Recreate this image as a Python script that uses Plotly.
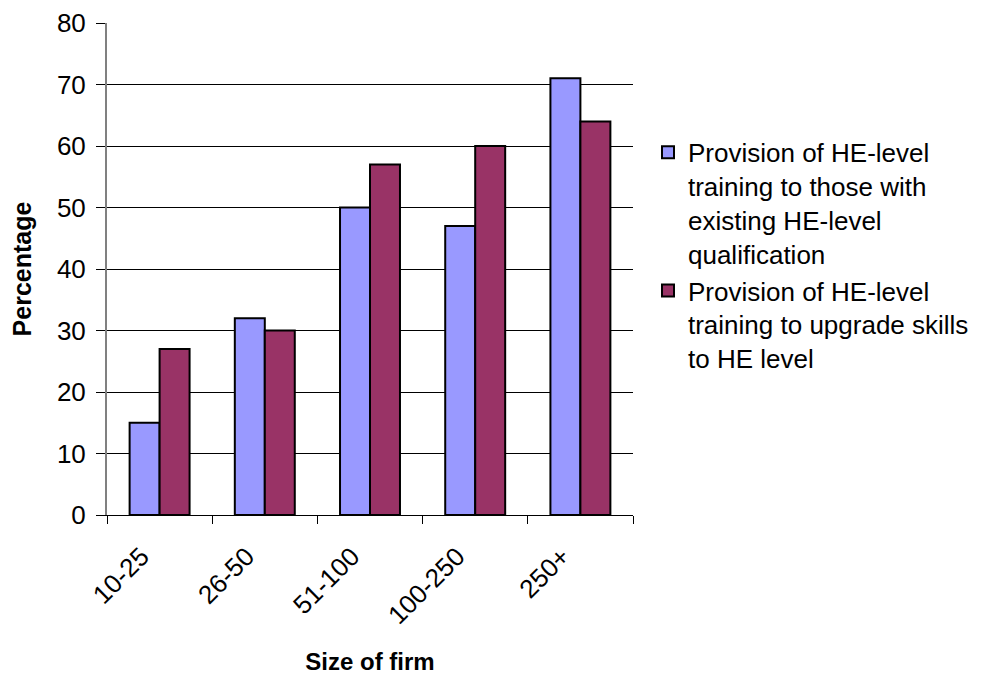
import plotly.graph_objects as go

# Survey results: share of firms providing HE-level training, by firm size
firm_sizes = ["10-25", "26-50", "51-100", "100-250", "250+"]
existing_he = [15, 32, 50, 47, 71]
upgrade_to_he = [27, 30, 57, 60, 64]

series_names = [
    "Provision of HE-level<br>training to those with<br>existing HE-level<br>qualification",
    "Provision of HE-level<br>training to upgrade skills<br>to HE level",
]
series_colors = ["#9999FF", "#993366"]

FONT = "Arial, Liberation Sans, sans-serif"

fig = go.Figure()
for name, vals, color in zip(series_names, [existing_he, upgrade_to_he], series_colors):
    fig.add_trace(go.Bar(
        x=firm_sizes, y=vals, name=name,
        marker=dict(color=color, line=dict(color="black", width=2)),
    ))

fig.update_layout(
    width=1002, height=675,
    margin=dict(l=107, r=369, t=23, b=160),
    paper_bgcolor="white", plot_bgcolor="white",
    barmode="group", bargap=0.43, bargroupgap=0,
    font=dict(family=FONT, color="black", size=25),
    legend=dict(
        x=1.0285, y=0.785, xanchor="left", yanchor="top",
        font=dict(size=26, family=FONT), tracegroupgap=6,
        itemwidth=30, valign="top",
    ),
    showlegend=True,
)

fig.update_xaxes(
    type="category", tickson="boundaries", automargin=False,
    ticks="outside", ticklen=8, tickcolor="black", tickwidth=1,
    showline=True, linecolor="black", linewidth=1,
    tickangle=-45, tickfont=dict(size=26),
    ticklabelstandoff=15, ticklabelshift=-18,
    title=dict(text="<b>Size of firm</b>", font=dict(size=24), standoff=30),
)
fig.update_yaxes(
    range=[0, 80], dtick=10, automargin=False,
    ticks="outside", ticklen=9, tickcolor="black", tickwidth=1,
    ticklabelstandoff=5,
    showline=True, linecolor="#808080", linewidth=2,
    showgrid=True, gridcolor="black", gridwidth=1,
    zeroline=False, tickfont=dict(size=26),
    title=dict(text="<b>Percentage</b>", font=dict(size=25), standoff=18),
)

fig.write_html("out.html")
